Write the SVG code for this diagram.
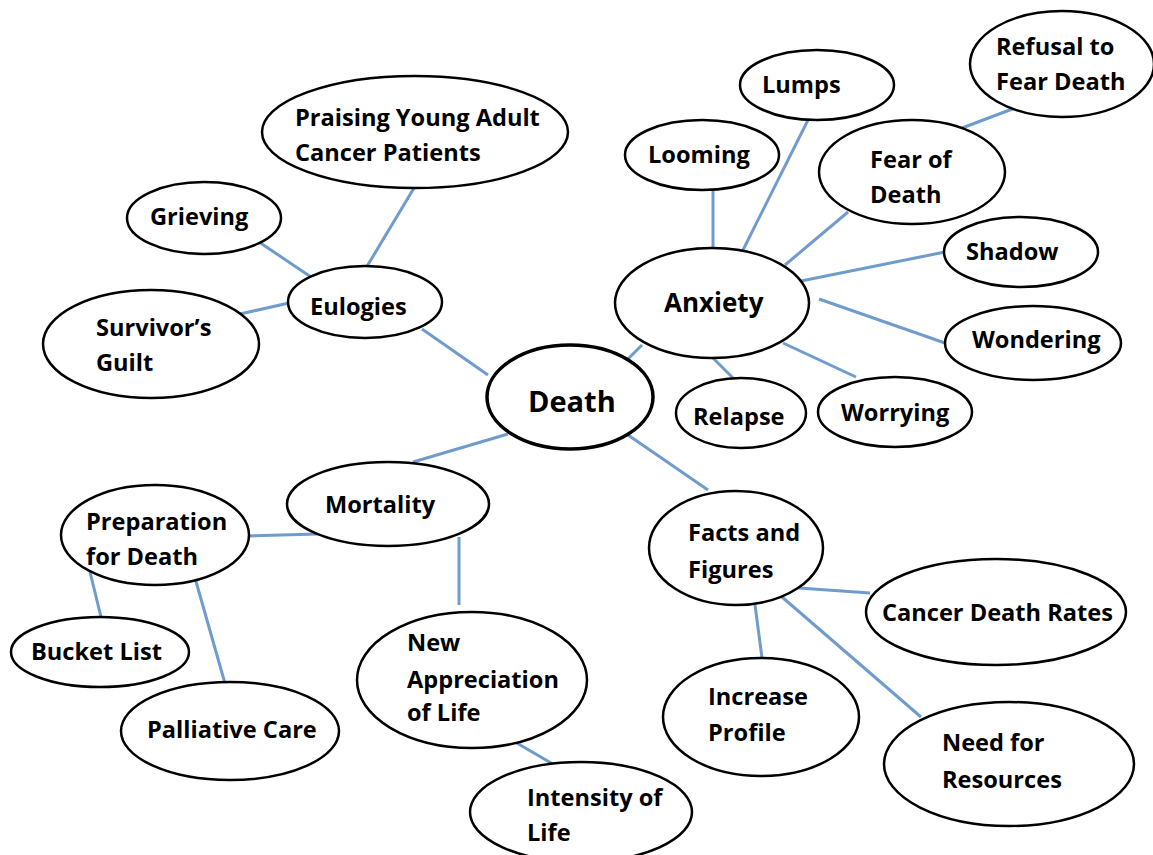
<svg xmlns="http://www.w3.org/2000/svg" width="1153" height="855" viewBox="0 0 1153 855">
<style>
.n{fill:#fff;stroke:#000;stroke-width:2.5}
.c{stroke:#6f9ccd;stroke-width:3;fill:none}
text{font-family:"Open Sans","Liberation Sans",sans-serif;font-weight:bold;font-size:23.6px;fill:#000}
.ax{font-size:26px}
.dt{font-size:29px}
</style>
<rect width="1153" height="855" fill="#fff"/>
<g id="connectors">
<line class="c" x1="414" y1="188" x2="366" y2="268"/>
<line class="c" x1="259" y1="242" x2="311" y2="277"/>
<line class="c" x1="240" y1="314" x2="289" y2="303"/>
<line class="c" x1="422" y1="329" x2="488" y2="375"/>
<line class="c" x1="627" y1="360" x2="642" y2="345"/>
<line class="c" x1="713" y1="189" x2="713" y2="248"/>
<line class="c" x1="808" y1="120" x2="743" y2="250"/>
<line class="c" x1="848" y1="212" x2="785" y2="265"/>
<line class="c" x1="962" y1="128" x2="1015" y2="108"/>
<line class="c" x1="945" y1="252" x2="801" y2="281"/>
<line class="c" x1="945" y1="343" x2="819" y2="299"/>
<line class="c" x1="737" y1="382" x2="713" y2="358"/>
<line class="c" x1="856" y1="377" x2="783" y2="343"/>
<line class="c" x1="508" y1="434" x2="413" y2="462"/>
<line class="c" x1="628" y1="435" x2="708" y2="490"/>
<line class="c" x1="249" y1="536" x2="318" y2="534"/>
<line class="c" x1="459" y1="537" x2="459" y2="605"/>
<line class="c" x1="90" y1="572" x2="101" y2="617"/>
<line class="c" x1="195" y1="578" x2="226" y2="687"/>
<line class="c" x1="515" y1="742" x2="558" y2="767"/>
<line class="c" x1="799" y1="588" x2="870" y2="593"/>
<line class="c" x1="755" y1="605" x2="762" y2="658"/>
<line class="c" x1="782" y1="597" x2="921" y2="717"/>
</g>
<g id="praising"><ellipse class="n" cx="415" cy="132" rx="153" ry="56"/><text x="295" y="126">Praising Young Adult</text><text x="295" y="161">Cancer Patients</text></g>
<g id="grieving"><ellipse class="n" cx="204" cy="218" rx="77" ry="36"/><text x="150" y="225">Grieving</text></g>
<g id="eulogies"><ellipse class="n" cx="365" cy="302" rx="77" ry="36"/><text x="310" y="315">Eulogies</text></g>
<g id="survivors"><ellipse class="n" cx="151" cy="344" rx="108" ry="54"/><text x="96" y="336">Survivor’s</text><text x="96" y="371">Guilt</text></g>
<g id="death"><ellipse cx="570" cy="397" rx="83" ry="52" fill="#fff" stroke="#000" stroke-width="3.5"/><text class="dt" x="528" y="412">Death</text></g>
<g id="anxiety"><ellipse class="n" cx="712" cy="303" rx="97" ry="55"/><text class="ax" x="664" y="312">Anxiety</text></g>
<g id="looming"><ellipse class="n" cx="702" cy="155" rx="77" ry="35"/><text x="648" y="163">Looming</text></g>
<g id="lumps"><ellipse class="n" cx="817" cy="85" rx="77" ry="35"/><text x="762" y="93">Lumps</text></g>
<g id="fear"><ellipse class="n" cx="912" cy="172" rx="93" ry="52"/><text x="870" y="168">Fear of</text><text x="870" y="203">Death</text></g>
<g id="refusal"><ellipse class="n" cx="1062" cy="64" rx="92" ry="53"/><text x="996" y="55">Refusal to</text><text x="996" y="90">Fear Death</text></g>
<g id="shadow"><ellipse class="n" cx="1021" cy="252" rx="77" ry="35"/><text x="966" y="260">Shadow</text></g>
<g id="wondering"><ellipse class="n" cx="1033" cy="343" rx="88" ry="37"/><text x="972" y="348">Wondering</text></g>
<g id="relapse"><ellipse class="n" cx="741" cy="413" rx="65" ry="35"/><text x="693" y="425">Relapse</text></g>
<g id="worrying"><ellipse class="n" cx="895" cy="412" rx="77" ry="35"/><text x="841" y="421">Worrying</text></g>
<g id="mortality"><ellipse class="n" cx="388" cy="504" rx="101" ry="42"/><text x="325" y="513">Mortality</text></g>
<g id="preparation"><ellipse class="n" cx="155" cy="535" rx="94" ry="50"/><text x="86" y="530">Preparation</text><text x="86" y="565">for Death</text></g>
<g id="bucket"><ellipse class="n" cx="100" cy="652" rx="89" ry="35"/><text x="31" y="660">Bucket List</text></g>
<g id="palliative"><ellipse class="n" cx="230" cy="731" rx="109" ry="49"/><text x="147" y="738">Palliative Care</text></g>
<g id="appreciation"><ellipse class="n" cx="472" cy="680" rx="115" ry="68"/><text x="407" y="651">New</text><text x="407" y="688">Appreciation</text><text x="407" y="721">of Life</text></g>
<g id="intensity"><ellipse class="n" cx="581" cy="812" rx="111" ry="50"/><text x="527" y="806">Intensity of</text><text x="527" y="841">Life</text></g>
<g id="facts"><ellipse class="n" cx="736" cy="548" rx="87" ry="57"/><text x="688" y="541">Facts and</text><text x="688" y="578">Figures</text></g>
<g id="cancer"><ellipse class="n" cx="996" cy="612" rx="130" ry="53"/><text x="882" y="621">Cancer Death Rates</text></g>
<g id="increase"><ellipse class="n" cx="761" cy="717" rx="98" ry="59"/><text x="708" y="705">Increase</text><text x="708" y="741">Profile</text></g>
<g id="need"><ellipse class="n" cx="1009" cy="764" rx="125" ry="62"/><text x="942" y="751">Need for</text><text x="942" y="788">Resources</text></g>
</svg>
